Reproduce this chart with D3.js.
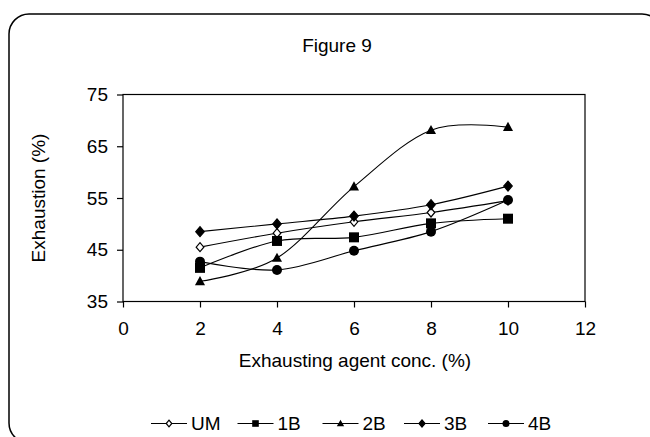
<!DOCTYPE html>
<html><head><meta charset="utf-8">
<script src="https://cdn.jsdelivr.net/npm/d3@7"></script>
<style>html,body{margin:0;padding:0;background:#fff;}svg{display:block;font-family:"Liberation Sans",Arial,sans-serif;}</style>
</head><body>
<svg id="c" width="650" height="437"></svg>
<script>
const xValues = [2, 4, 6, 8, 10];
const seriesNames = ["UM", "1B", "2B", "3B", "4B"];
const valuesUM = [45.5, 48.2, 50.4, 52.2, 54.5];
const values1B = [41.5, 46.7, 47.4, 50.1, 51.0];
const values2B = [38.9, 43.4, 57.2, 68.1, 68.7];
const values3B = [48.5, 50.0, 51.5, 53.7, 57.3];
const values4B = [42.7, 41.1, 44.8, 48.5, 54.6];
const markerTypes = ["diamondOpen", "square", "triangle", "diamond", "circle"];
const xTicks = [0, 2, 4, 6, 8, 10, 12];
const yTicks = [35, 45, 55, 65, 75];
const titleText = "Figure 9";
const xTitle = "Exhausting agent conc. (%)";
const yTitle = "Exhaustion (%)";

const allValues = [valuesUM, values1B, values2B, values3B, values4B];
const svg = d3.select("#c");
const L = 123, R = 585, T = 94.5, B = 301.5;
const FS = 19;
const x = d3.scaleLinear().domain([0, 12]).range([L, R]);
const y = d3.scaleLinear().domain([35, 75]).range([B, T]);

// frame
svg.append("rect").attr("x", 9).attr("y", 14).attr("width", 653).attr("height", 429)
  .attr("rx", 20).attr("fill", "none").attr("stroke", "#000").attr("stroke-width", 1.5);

svg.append("text").attr("x", 337).attr("y", 52).attr("text-anchor", "middle")
  .attr("font-size", FS).text(titleText);

// plot box
svg.append("rect").attr("x", L).attr("y", T).attr("width", R - L).attr("height", B - T)
  .attr("fill", "none").attr("stroke", "#000").attr("stroke-width", 1.2);

const xAxis = d3.axisBottom(x).tickValues(xTicks).tickSize(6).tickPadding(14).tickFormat(d3.format("d"));
const gx = svg.append("g").attr("transform", `translate(0,${B})`).call(xAxis);
const yAxis = d3.axisLeft(y).tickValues(yTicks).tickSize(6).tickPadding(9).tickFormat(d3.format("d"));
const gy = svg.append("g").attr("transform", `translate(${L},0)`).call(yAxis);
[gx, gy].forEach(g => {
  g.select(".domain").remove();
  g.selectAll("line").attr("stroke", "#000").attr("stroke-width", 1.2);
  g.selectAll("text").attr("font-size", FS).attr("fill", "#000").attr("font-family", "Liberation Sans, Arial, sans-serif");
});

svg.append("text").attr("x", 355).attr("y", 367).attr("text-anchor", "middle")
  .attr("font-size", FS).text(xTitle);
svg.append("text").attr("transform", `translate(45,${(T + B) / 2}) rotate(-90)`)
  .attr("text-anchor", "middle").attr("font-size", FS).text(yTitle);

const line = d3.line().x((d, i) => x(xValues[i])).y(d => y(d)).curve(d3.curveCatmullRom.alpha(0));

function marker(g, type, cx, cy, s) {
  if (type === "diamondOpen" || type === "diamond") {
    g.append("path").attr("d", `M${cx},${cy - s}L${cx + s * 0.85},${cy}L${cx},${cy + s}L${cx - s * 0.85},${cy}Z`)
      .attr("fill", type === "diamond" ? "#000" : "#fff").attr("stroke", "#000").attr("stroke-width", 1.2);
  } else if (type === "square") {
    g.append("rect").attr("x", cx - s).attr("y", cy - s).attr("width", 2 * s).attr("height", 2 * s).attr("fill", "#000");
  } else if (type === "triangle") {
    g.append("path").attr("d", `M${cx},${cy - s * 1.1}L${cx + s * 1.05},${cy + s * 0.8}L${cx - s * 1.05},${cy + s * 0.8}Z`).attr("fill", "#000");
  } else {
    g.append("circle").attr("cx", cx).attr("cy", cy).attr("r", s).attr("fill", "#000");
  }
}
const markerSize = [4.5, 5, 4.8, 5, 5];

allValues.forEach((vals, si) => {
  const g = svg.append("g");
  g.append("path").datum(vals).attr("d", line).attr("fill", "none").attr("stroke", "#000").attr("stroke-width", 1.1);
  vals.forEach((v, i) => marker(g, markerTypes[si], x(xValues[i]), y(v), markerSize[si]));
});

// legend
const legendX = [151, 237.5, 322.5, 404, 488];
const legendY = 423.5;
seriesNames.forEach((n, i) => {
  const g = svg.append("g");
  g.append("line").attr("x1", legendX[i]).attr("x2", legendX[i] + 36).attr("y1", legendY).attr("y2", legendY)
    .attr("stroke", "#000").attr("stroke-width", 1.1);
  marker(g, markerTypes[i], legendX[i] + 18, legendY, [3.3, 3.3, 3.5, 3.6, 3.5][i]);
  g.append("text").attr("x", legendX[i] + 40).attr("y", 429.5).attr("font-size", FS).text(n);
});
</script>
</body></html>
